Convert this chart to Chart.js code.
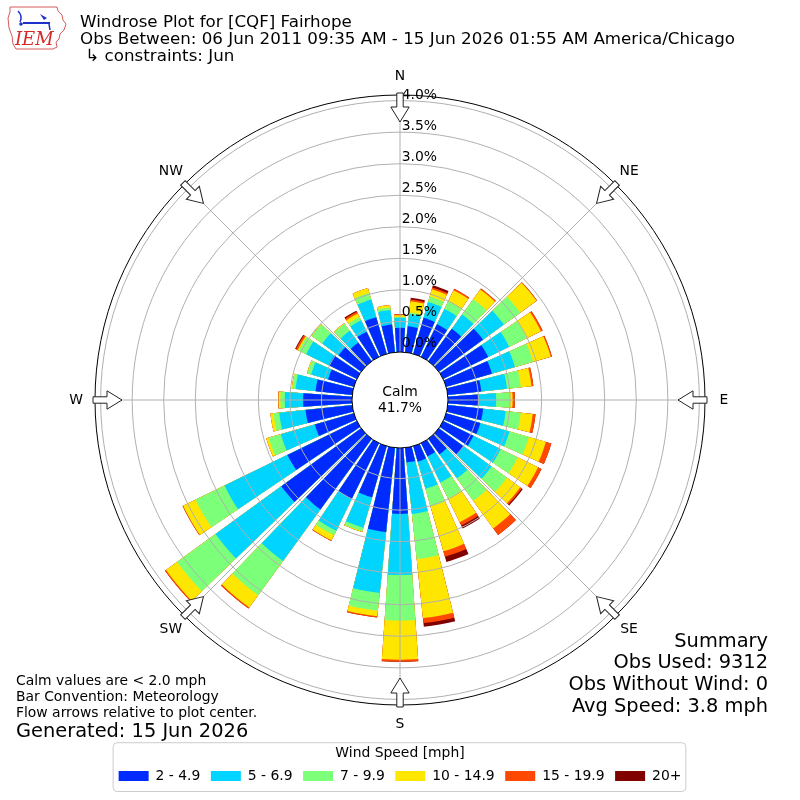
<!DOCTYPE html>
<html><head><meta charset="utf-8">
<script src="https://cdn.jsdelivr.net/npm/chart.js@4.4.1/dist/chart.umd.min.js"></script>
<style>html,body{margin:0;padding:0;background:#fff;}#wrap{position:relative;width:800px;height:800px;}canvas{display:block;}</style>
</head><body>
<div id="wrap"><canvas id="c" width="800" height="800"></canvas></div>
<script>
// ---------------- data ----------------
const directions = [0,10,20,30,40,50,60,70,80,90,100,110,120,130,140,150,160,170,180,190,200,210,220,230,240,250,260,270,280,290,300,310,320,330,340,350];
const speedBins = ['2 - 4.9','5 - 6.9','7 - 9.9','10 - 14.9','15 - 19.9','20+'];
const binColors = ['rgb(0,43,255)','rgb(0,212,255)','rgb(124,255,121)','rgb(255,230,0)','rgb(255,72,0)','rgb(128,0,0)'];
// percent of observations per direction, per speed bin
const bin2to5   = [0.40,0.43,0.61,0.59,0.65,0.88,0.81,0.77,0.55,0.49,0.58,0.58,0.55,0.50,0.32,0.25,0.27,0.25,1.06,1.36,0.86,1.00,1.40,1.58,1.24,0.66,0.76,0.79,0.60,0.44,0.51,0.46,0.38,0.46,0.62,0.46];
const bin5to7   = [0.16,0.19,0.26,0.27,0.28,0.41,0.37,0.38,0.41,0.29,0.36,0.48,0.48,0.55,0.47,0.46,0.45,0.82,0.97,0.97,0.50,0.56,1.01,1.29,1.11,0.56,0.42,0.29,0.32,0.28,0.40,0.32,0.23,0.20,0.29,0.23];
const bin7to10  = [0.01,0.03,0.09,0.14,0.30,0.32,0.31,0.30,0.22,0.22,0.24,0.32,0.30,0.30,0.44,0.28,0.29,0.72,0.72,0.28,0.06,0.08,0.67,0.75,0.51,0.20,0.09,0.07,0.05,0.06,0.13,0.20,0.14,0.06,0.11,0.04];
const bin10to15 = [0.03,0.18,0.12,0.19,0.19,0.32,0.25,0.29,0.17,0.04,0.19,0.28,0.36,0.26,0.54,0.42,0.74,0.94,0.62,0.09,0.01,0.09,0.24,0.22,0.22,0.04,0.05,0.03,0.01,0.01,0.02,0.01,0.01,0.06,0.08,0.04];
const bin15to20 = [0.015,0.025,0.03,0.025,0.02,0.01,0.03,0.02,0.03,0.035,0.045,0.09,0.06,0.03,0.13,0.06,0.09,0.08,0.03,0.02,0,0.01,0.02,0.02,0.01,0,0,0.005,0,0,0.03,0,0,0.03,0,0];
const bin20plus = [0,0.03,0.035,0,0,0,0,0,0,0,0,0,0,0.02,0,0.05,0.085,0.06,0.005,0,0,0,0,0,0,0,0,0,0,0,0.015,0,0,0.02,0,0];
const tickValues = [0,0.5,1.0,1.5,2.0,2.5,3.0,3.5,4.0];
const tickLabels = ['0.0%','0.5%','1.0%','1.5%','2.0%','2.5%','3.0%','3.5%','4.0%'];
const compassNames = ['N','NE','E','SE','S','SW','W','NW'];
const calmText = ['Calm','41.7%'];
const titleLines = ['Windrose Plot for [CQF] Fairhope','Obs Between: 06 Jun 2011 09:35 AM - 15 Jun 2026 01:55 AM America/Chicago',' \u21b3 constraints: Jun'];
const noteLines = ['Calm values are < 2.0 mph','Bar Convention: Meteorology','Flow arrows relative to plot center.'];
const generatedText = 'Generated: 15 Jun 2026';
const summaryLines = ['Summary','Obs Used: 9312','Obs Without Wind: 0','Avg Speed: 3.8 mph'];
const legendTitle = 'Wind Speed [mph]';

// ---------------- layout constants ----------------
const FONT = '"DejaVu Sans", "Liberation Sans", sans-serif';
const BAR_DEG = 8, GAP_DEG = 2;
const R_MIN = -0.745, R_MAX = 4.089;
const CALM_R = 48;

const series = [bin2to5, bin5to7, bin7to10, bin10to15, bin15to20, bin20plus];
const cumulative = series.map((_, k) => directions.map((d, i) => series.slice(0, k + 1).reduce((a, s) => a + s[i], 0)));
const labels = [];
directions.forEach(d => { labels.push(d + '\u00b0'); labels.push(''); });
const datasets = speedBins.map((name, k) => ({
  label: name,
  data: cumulative[k].flatMap(v => [v, 0]),
  legendColor: binColors[k],
  backgroundColor: ctx => (ctx.dataIndex % 2 ? 'rgba(0,0,0,0)' : binColors[k]),
  borderWidth: 0,
  angle: ctx => (ctx.dataIndex % 2 ? GAP_DEG : BAR_DEG)
}));

function drawLogo(ctx) {
  ctx.save();
  ctx.strokeStyle = '#d65a5a'; ctx.lineWidth = 1;
  const pts = [[10,7],[57,7],[58,11],[62,15],[63,20],[66,24],[64,30],[60,34],[59,39],[56,42],[57,47],[53,49],[16,49],[13,44],[12,36],[9,28],[8,18],[10,12]];
  ctx.beginPath(); pts.forEach((p, i) => i ? ctx.lineTo(p[0], p[1]) : ctx.moveTo(p[0], p[1])); ctx.closePath(); ctx.stroke();
  ctx.strokeStyle = '#1f2fcc'; ctx.fillStyle = '#1f2fcc'; ctx.lineWidth = 2;
  ctx.beginPath(); ctx.moveTo(23, 23); ctx.lineTo(50, 23); ctx.stroke();
  ctx.lineWidth = 1.5;
  ctx.beginPath(); ctx.moveTo(18, 11); ctx.quadraticCurveTo(23, 16, 20, 22); ctx.stroke();
  ctx.beginPath(); ctx.moveTo(40, 14); ctx.lineTo(47, 18); ctx.lineTo(44, 20); ctx.closePath(); ctx.fill();
  ctx.beginPath(); ctx.arc(21, 24, 1.8, 0, Math.PI * 2); ctx.fill();
  ctx.beginPath(); ctx.moveTo(49, 24); ctx.lineTo(50, 30); ctx.stroke();
  ctx.fillStyle = '#d42a2a'; ctx.font = 'italic 18px "DejaVu Serif", "Liberation Serif", serif';
  ctx.textAlign = 'left'; ctx.textBaseline = 'alphabetic';
  ctx.fillText('IEM', 15, 45);
  ctx.restore();
}

const windrosePlugin = {
  id: 'windrose',
  afterDatasetsDraw(chart) {
    const s = chart.scales.r, ctx = chart.ctx;
    ctx.save(); ctx.strokeStyle = '#b0b0b0'; ctx.lineWidth = 1;
    for (let k = 0; k < 8; k++) {
      const a = k * Math.PI / 4;
      ctx.beginPath();
      ctx.moveTo(s.xCenter + CALM_R * Math.sin(a), s.yCenter - CALM_R * Math.cos(a));
      ctx.lineTo(s.xCenter + s.drawingArea * Math.sin(a), s.yCenter - s.drawingArea * Math.cos(a));
      ctx.stroke();
    }
    ctx.restore();
  },
  afterDraw(chart) {
    const s = chart.scales.r, ctx = chart.ctx;
    const cx = s.xCenter, cy = s.yCenter, R = s.drawingArea;
    ctx.save();
    // outer frame
    ctx.strokeStyle = '#000'; ctx.lineWidth = 1;
    ctx.beginPath(); ctx.arc(cx, cy, R, 0, Math.PI * 2); ctx.stroke();
    // calm circle
    ctx.fillStyle = '#fff';
    ctx.beginPath(); ctx.arc(cx, cy, CALM_R, 0, Math.PI * 2); ctx.fill(); ctx.stroke();
    ctx.fillStyle = '#000'; ctx.font = '13.9px ' + FONT; ctx.textAlign = 'center'; ctx.textBaseline = 'middle';
    ctx.fillText(calmText[0], cx, cy - 8);
    ctx.fillText(calmText[1], cx, cy + 8);
    // tick labels
    ctx.textAlign = 'left';
    tickValues.forEach((v, i) => {
      const r = s.getDistanceFromCenterForValue(v);
      ctx.fillText(tickLabels[i], cx + 1.7, cy - r - (10.5 - 0.0167 * r));
    });
    // arrows & compass labels
    compassNames.forEach((name, k) => {
      const a = k * Math.PI / 4;
      ctx.save(); ctx.translate(cx, cy); ctx.rotate(a);
      ctx.beginPath();
      ctx.moveTo(-3.2, -R - 2); ctx.lineTo(3.2, -R - 2); ctx.lineTo(3.2, -R + 12);
      ctx.lineTo(9.2, -R + 12); ctx.lineTo(0, -R + 27); ctx.lineTo(-9.2, -R + 12); ctx.lineTo(-3.2, -R + 12);
      ctx.closePath();
      ctx.fillStyle = '#fff'; ctx.fill(); ctx.strokeStyle = '#222'; ctx.lineWidth = 1; ctx.stroke();
      ctx.restore();
      ctx.fillStyle = '#000'; ctx.textAlign = 'center'; ctx.textBaseline = 'middle';
      ctx.fillText(name, cx + (R + 19) * Math.sin(a), cy - (R + 19) * Math.cos(a));
    });
    // legend frame
    const lg = chart.legend;
    if (lg && lg.legendHitBoxes && lg.legendHitBoxes.length) {
      const hb = lg.legendHitBoxes, last = hb[hb.length - 1];
      const x0 = hb[0].left - 6, x1 = last.left + last.width + 4;
      const y0 = lg.top + 37, y1 = lg.bottom - 2;
      ctx.strokeStyle = '#cccccc'; ctx.lineWidth = 1;
      ctx.beginPath(); ctx.roundRect(x0 + 0.5, y0 + 0.5, x1 - x0, y1 - y0, 4); ctx.stroke();
    }
    // texts
    ctx.fillStyle = '#000'; ctx.textBaseline = 'alphabetic'; ctx.textAlign = 'left';
    ctx.font = '16.7px ' + FONT;
    [26.5, 44, 61].forEach((y, i) => ctx.fillText(titleLines[i], 80, y));
    ctx.font = '13.9px ' + FONT;
    [685, 701, 717].forEach((y, i) => ctx.fillText(noteLines[i], 16, y));
    ctx.font = '19.4px ' + FONT;
    ctx.fillText(generatedText, 16, 737);
    ctx.textAlign = 'right';
    [647, 668, 690, 712].forEach((y, i) => ctx.fillText(summaryLines[i], 768, y));
    drawLogo(ctx);
    ctx.restore();
  }
};

new Chart(document.getElementById('c'), {
  type: 'polarArea',
  data: { labels, datasets },
  options: {
    responsive: false,
    animation: false,
    events: [],
    layout: { padding: { top: 95, left: 20, right: 20, bottom: 7 } },
    scales: {
      r: {
        type: 'radialLinear',
        min: R_MIN, max: R_MAX,
        startAngle: -BAR_DEG / 2,
        grid: { circular: true, color: '#b0b0b0', lineWidth: 1, z: 1 },
        angleLines: { display: false },
        pointLabels: { display: false },
        ticks: { display: false, z: 1 },
        afterBuildTicks: sc => { sc.ticks = tickValues.map(v => ({ value: v })); }
      }
    },
    plugins: {
      tooltip: { enabled: false },
      legend: {
        position: 'bottom', align: 'center', onClick: null,
        title: { display: true, text: legendTitle, color: '#000', font: { family: FONT, size: 13.9 }, padding: { top: 41, bottom: -4.3 } },
        labels: {
          boxWidth: 30, boxHeight: 10, padding: 10.5, color: '#000',
          font: { family: FONT, size: 13.9 },
          generateLabels: chart => chart.data.datasets.map((ds, i) => ({
            text: ds.label, fillStyle: ds.legendColor, strokeStyle: ds.legendColor,
            lineWidth: 0, hidden: false, datasetIndex: i
          }))
        }
      }
    }
  },
  plugins: [windrosePlugin]
});
</script>
</body></html>
